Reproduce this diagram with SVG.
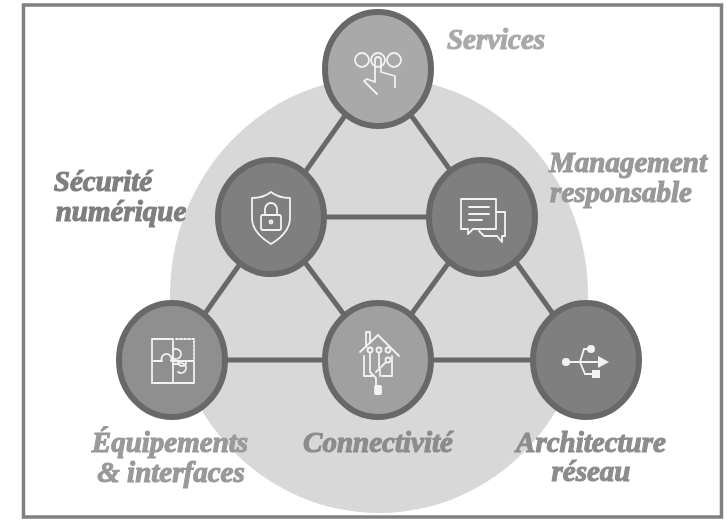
<svg xmlns="http://www.w3.org/2000/svg" width="727" height="520" viewBox="0 0 727 520">
<style>
.n{stroke:#686868;stroke-width:6}
.l{stroke:#686868;stroke-width:5;fill:none}
.i{fill:none;stroke:#f2f2f2;stroke-width:1.800;stroke-linejoin:round;stroke-linecap:round}
.t{font-family:"Liberation Serif",serif;font-weight:700;font-style:italic;font-size:29px;text-anchor:middle;stroke-width:1.100}
.a{fill:#a9a9a9;stroke:#a9a9a9}
.b{fill:#7f7f7f;stroke:#7f7f7f}
.c{fill:#999;stroke:#999}
.d{fill:#8c8c8c;stroke:#8c8c8c}
</style>
<defs><filter id="s" x="-5%" y="-5%" width="110%" height="110%"><feGaussianBlur stdDeviation="0.500"/></filter></defs>
<rect width="727" height="520" fill="#fff"/>
<g filter="url(#s)">
<ellipse cx="379" cy="295" rx="209" ry="218" fill="#d8d8d8"/>
<rect x="23.500" y="5" width="698" height="512" fill="none" stroke="#808080" stroke-width="3.500"/>
<g id="connectors" class="l">
<path d="M378 69L172 360H586Z"/>
<path d="M271 217H482L378 360Z"/>
</g>
<g id="services"><ellipse class="n" cx="378" cy="69" rx="53" ry="57" fill="#a9a9a9"/>
<g class="i"><circle cx="362" cy="60" r="7"/><circle cx="378" cy="60" r="7"/><circle cx="394" cy="60" r="7"/>
<path d="M375 82V60a3 3 0 0 1 6 0V72l14 4V87M375 82l-8-3-3 2 13 13"/></g>
<text class="t a" x="496" y="49">Services</text></g>
<g id="securite"><ellipse class="n" cx="271" cy="217" rx="53" ry="57" fill="#7f7f7f"/>
<g class="i"><path d="M271 192c-5 4-12 6-19 6v20c0 12 9 20 19 26 10-6 19-14 19-26v-20c-7 0-14-2-19-6Z"/><rect x="261" y="215" width="20" height="15" rx="2"/><path d="M265 215v-6a6 6 0 0 1 12 0v6"/><circle cx="271" cy="222" r="1.500"/></g>
<text class="t b" x="103" y="191">Sécurité</text><text class="t b" x="121" y="221">numérique</text></g>
<g id="management"><ellipse class="n" cx="482" cy="217" rx="53" ry="57" fill="#7f7f7f"/>
<g class="i"><path d="M461 199h35v30h-23l-5 5v-5h-7ZM469 207h20M469 214h20M469 220h13"/><path d="M496 212h9v24h-3v6l-5-6h-13l-5-5"/></g>
<text class="t c" x="628" y="172">Management</text><text class="t c" x="621" y="202">responsable</text></g>
<g id="equipements"><ellipse class="n" cx="172" cy="360" rx="53" ry="57" fill="#8f8f8f"/>
<g class="i"><path d="M173 339h-21v44h42v-22M173 339v44M152 361h10a5 5 0 1 1 9 0h23"/><path d="M173 350a5 5 0 1 1 0 8M173 364h5a5 5 0 1 1 0 8M178 361v3a5 5 0 0 0 8 0v-3"/><path d="M176 339h18v22" stroke-dasharray="2 2"/></g>
<text class="t c" x="170" y="452">Équipements</text><text class="t c" x="171" y="482">&amp; interfaces</text></g>
<g id="connectivite"><ellipse class="n" cx="378" cy="360" rx="53" ry="57" fill="#a0a0a0"/>
<g class="i"><path d="M360 352l18-17 21 21M366 347V332h4v11M364 356v20h8M392 356v20h-10"/><circle cx="370" cy="350" r="2.500"/><circle cx="379" cy="350" r="2.500"/><circle cx="388" cy="350" r="2.500"/><circle cx="388" cy="360" r="2.500"/>
<path d="M370 353v19l6 6v8M379 353v16l-3 3M386 362l-6 6v8"/><rect x="375" y="386" width="6" height="8" rx="1" fill="#f2f2f2"/></g>
<text class="t d" x="378" y="452">Connectivité</text></g>
<g id="architecture"><ellipse class="n" cx="586" cy="360" rx="53" ry="57" fill="#7f7f7f"/>
<g fill="#f2f2f2"><circle cx="566" cy="362" r="4"/><circle cx="591" cy="349" r="4"/><rect x="592" y="370" width="8" height="8"/><path d="M598 356l11 6-11 6Z"/></g>
<path d="M566 362h34M580 362l4-13h6M580 362l5 12h7" fill="none" stroke="#f2f2f2" stroke-width="1.800"/>
<text class="t d" x="591" y="452">Architecture</text><text class="t d" x="591" y="481">réseau</text></g>
</g>
</svg>
